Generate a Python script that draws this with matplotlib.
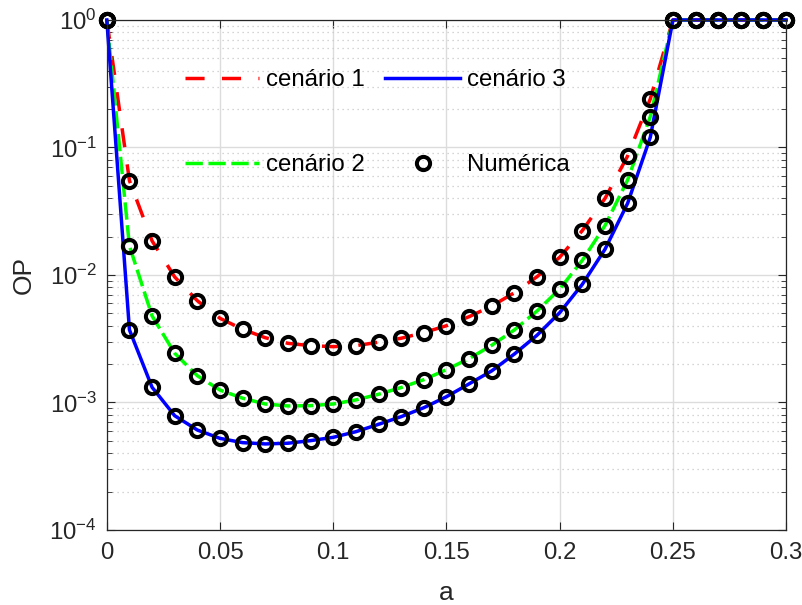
""" Outage probability vs a, three scenarios plus numerical points """

import matplotlib
matplotlib.use('Agg')
import matplotlib.pyplot as plt
from matplotlib.ticker import FixedLocator, FormatStrFormatter, LogLocator, NullFormatter

plt.rcParams['font.family'] = ['Liberation Sans', 'DejaVu Sans']
plt.rcParams['mathtext.default'] = 'regular'

a_values = [0.00, 0.01, 0.02, 0.03, 0.04, 0.05, 0.06, 0.07, 0.08, 0.09, 0.10,
            0.11, 0.12, 0.13, 0.14, 0.15, 0.16, 0.17, 0.18, 0.19, 0.20,
            0.21, 0.22, 0.23, 0.24, 0.25, 0.26, 0.27, 0.28, 0.29, 0.30]

op_cenario1 = [1.0, 0.0549, 0.0185, 0.00964, 0.00628, 0.00457, 0.00375, 0.00322,
               0.00291, 0.00279, 0.00274, 0.00279, 0.00297, 0.00319, 0.00353,
               0.0040, 0.00471, 0.00571, 0.00726, 0.0097, 0.01377, 0.0223,
               0.0398, 0.0858, 0.240, 1.0, 1.0, 1.0, 1.0, 1.0, 1.0]

op_cenario2 = [1.0, 0.01688, 0.00477, 0.00243, 0.00162, 0.00125, 0.00108, 0.000973,
               0.000939, 0.000944, 0.000973, 0.001047, 0.00116, 0.00131, 0.00151,
               0.00181, 0.00221, 0.00281, 0.00371, 0.00522, 0.00776, 0.01303,
               0.0244, 0.0556, 0.1745, 1.0, 1.0, 1.0, 1.0, 1.0, 1.0]

op_cenario3 = [1.0, 0.00371, 0.001315, 0.000787, 0.000608, 0.000523, 0.000484,
               0.000473, 0.000479, 0.000502, 0.000533, 0.00059, 0.000674, 0.000774,
               0.00091, 0.00111, 0.0014, 0.00177, 0.0024, 0.00337, 0.00506,
               0.00845, 0.0159, 0.0365, 0.120, 1.0, 1.0, 1.0, 1.0, 1.0, 1.0]

x_ticks = [0, 0.05, 0.1, 0.15, 0.2, 0.25, 0.3]


def draw_chart():
    fig = plt.figure(figsize=(8.03, 6.05), dpi=100)
    ax = fig.add_axes([0.133, 0.124, 0.846, 0.843])

    ax.plot(a_values, op_cenario1, color='red', lw=2.5, linestyle=(0, (5.5, 5)),
            label='cenário 1', clip_on=False)
    ax.plot(a_values, op_cenario2, color='#00ff00', lw=2.5,
            linestyle=(0, (5, 1.6)), label='cenário 2', clip_on=False)
    ax.plot(a_values, op_cenario3, color='blue', lw=2.5, label='cenário 3',
            clip_on=False)

    marker_style = dict(linestyle='none', marker='o', markersize=9.5, mfc='none',
                        mec='black', mew=2.9, clip_on=False)
    ax.plot(a_values, op_cenario1, label='Numérica', **marker_style)
    ax.plot(a_values, op_cenario2, **marker_style)
    ax.plot(a_values, op_cenario3, **marker_style)

    ax.set_yscale('log')
    ax.set_xlim(0, 0.3)
    ax.set_ylim(1e-4, 1)
    ax.xaxis.set_major_locator(FixedLocator(x_ticks))
    ax.xaxis.set_major_formatter(FormatStrFormatter('%g'))
    ax.yaxis.set_major_locator(LogLocator(base=10, numticks=10))
    ax.yaxis.set_minor_locator(LogLocator(base=10, subs=range(2, 10), numticks=10))
    ax.yaxis.set_minor_formatter(NullFormatter())

    ax.grid(True, which='major', color='#dcdcdc', lw=1.0)
    ax.grid(True, which='minor', axis='y', color='#c8c8c8', lw=0.9,
            linestyle=(0, (1, 3)))
    ax.set_axisbelow(True)

    for spine in ax.spines.values():
        spine.set_color('#262626')
        spine.set_linewidth(0.9)
    ax.tick_params(which='both', direction='in', top=True, right=True,
                   colors='#262626', labelsize=17.3, labelcolor='#262626')
    ax.tick_params(which='major', length=6)
    ax.tick_params(which='minor', length=3.5)
    ax.tick_params(axis='x', pad=9)
    ax.tick_params(axis='y', pad=7)

    ax.set_xlabel('a', fontsize=19, color='#262626', labelpad=12)
    ax.set_ylabel('OP', fontsize=19, color='#262626', labelpad=10)

    ax.legend(loc='upper left', bbox_to_anchor=(0.115, 0.903), ncol=2,
              frameon=False, fontsize=17.3, borderpad=0, borderaxespad=0,
              labelspacing=2.61, handlelength=3.1, handletextpad=0.28,
              columnspacing=0.85, numpoints=1)

    fig.savefig('out.png', dpi=100)


def main():
    draw_chart()


if __name__ == '__main__':
    main()
